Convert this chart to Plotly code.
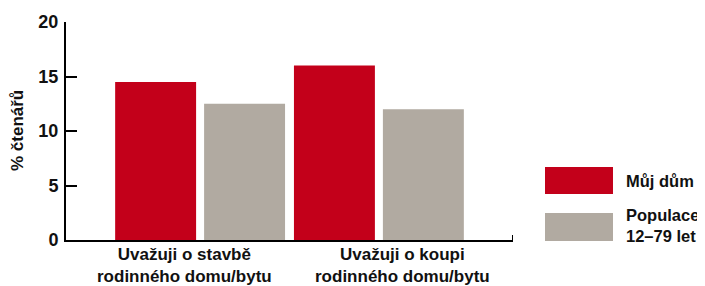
import plotly.graph_objects as go

categories = ["Uvažuji o stavbě<br>rodinného domu/bytu", "Uvažuji o koupi<br>rodinného domu/bytu"]
series_names = ["Můj dům", "Populace<br>12–79 let"]
muj_dum = [14.5, 16.0]
populace = [12.5, 12.0]
y_ticks = [0, 5, 10, 15, 20]
colors = ["#C3001A", "#B1AAA1"]

FONT = dict(family="Liberation Sans, Arial, sans-serif", size=17.5, color="#111111", weight="bold")

fig = go.Figure()
fig.add_trace(go.Bar(x=[0, 1], y=muj_dum, marker_color=colors[0], marker_line_width=0,
                     name="Můj dům", showlegend=False))
fig.add_trace(go.Bar(x=[0, 1], y=populace, marker_color=colors[1], marker_line_width=0,
                     name="Populace 12–79 let", showlegend=False))

# page body has an 8px margin: figure is offset by (8, 8) in the window
fig.update_layout(
    width=697, height=278,
    margin=dict(l=58, r=192, t=14, b=46, autoexpand=False),
    paper_bgcolor="white", plot_bgcolor="white",
    barmode="group", bargap=0.005, bargroupgap=0.09,
    font=FONT,
    xaxis=dict(range=[-0.75, 1.75], showticklabels=False, ticks="", showgrid=False,
               showline=True, linecolor="black", linewidth=2, zeroline=False, automargin=False),
    yaxis=dict(range=[0, 20], tickvals=y_ticks, ticktext=[str(v) for v in y_ticks],
               ticks="inside", ticklen=11, tickwidth=1.5, tickcolor="black",
               ticklabelstandoff=2, automargin=False,
               showline=True, linecolor="black", linewidth=2, showgrid=False, zeroline=False,
               tickfont=dict(FONT, size=18)),
)

# category labels
label_x = [-0.09, 1.13]
for cx, lab in zip(label_x, categories):
    fig.add_annotation(x=cx, xref="x", y=0, yref="paper", yshift=-3, text=lab, showarrow=False,
                       xanchor="center", yanchor="top", font=dict(FONT, size=17))

# y-axis title
fig.add_annotation(x=-0.1096, xref="paper", y=0.5, yref="paper", text="% čtenářů", textangle=-90,
                   showarrow=False, xanchor="center", yanchor="middle", font=dict(FONT, size=17))

# small tick at end of x axis
fig.add_shape(type="line", xref="x", yref="y", x0=1.75, x1=1.75, y0=0, y1=0.45,
              line=dict(color="black", width=2))

# manual legend
leg = [(0.3349, 0.211), (0.1239, -0.0046)]
for (y1, y0), c in zip(leg, colors):
    fig.add_shape(type="rect", xref="paper", yref="paper", x0=1.0716, x1=1.2237, y0=y0, y1=y1,
                  fillcolor=c, line=dict(width=0))
legend_text_y = [0.2716, 0.0656]
for ty, name in zip(legend_text_y, series_names):
    fig.add_annotation(x=1.2483, xref="paper", y=ty, yref="paper", text=name,
                       showarrow=False, xanchor="left", yanchor="middle", align="left",
                       font=dict(FONT, size=16.5))

fig.write_html("out.html")
